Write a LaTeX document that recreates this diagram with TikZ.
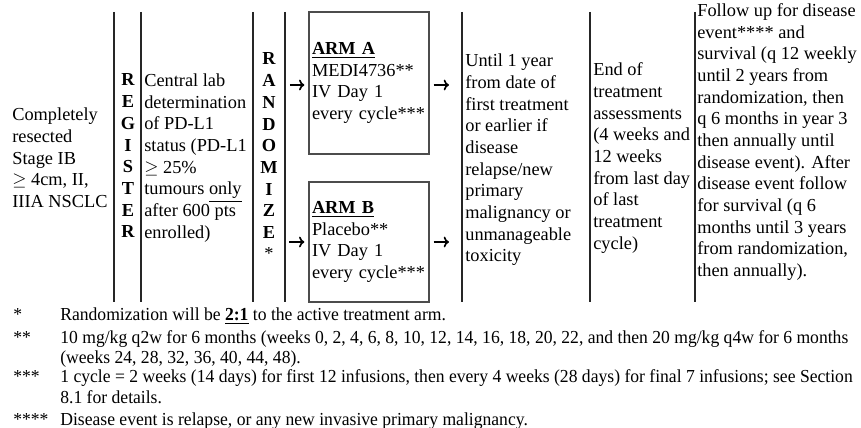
\documentclass[tikz,border=0pt]{standalone}
\usepackage{fontspec}
\setmainfont{Liberation Serif}
\newfontfamily\notefont[FakeStretch=0.96]{Liberation Serif}
\usetikzlibrary{arrows.meta}
\tikzset{
    cell/.style={
        anchor=west,align=left,inner sep=0pt,
        font=\fontsize{11}{13}\selectfont
    },
    letter/.style={
        anchor=base,inner sep=0pt,
        font=\fontsize{11}{13}\selectfont\bfseries
    },
    arm box/.style={
        draw=black!70,line width=.8pt,
        minimum width=72pt,inner sep=1.8pt,
        text width=68.4pt,align=left,
        font=\fontsize{11}{13}\selectfont
    },
    rule/.style={line width=.8pt,black!85},
    mini arrow/.style={-{To[length=3.2pt,width=6.5pt]},line width=1pt},
    note/.style={anchor=base west,inner sep=0pt,font=\notefont\fontsize{11}{13}\selectfont}
}
\begin{document}
\begin{tikzpicture}[x=0.6pt,y=-0.6pt]
    \useasboundingbox (0,0) rectangle (861,428);
    % column rules
    \foreach \x in {114,141,253,285,462,590,695}
        \draw[rule] (\x,12) -- (\x,302);
    \node[cell] (pop) at (12,158) {Completely\\resected\\Stage IB\\$\geq$ 4cm, II,\\IIIA NSCLC};
    \foreach \l [count=\i] in {R,E,G,I,S,T,E,R}
        \node[letter] (reg\i) at (128,{86+21.67*(\i-1)}) {\l};
    \node[cell] (lab) at (144,158) {Central lab\\determination\\of PD-L1\\status (PD-L1\\$\geq$ 25\%\\tumours \underline{only}\\after 600 pts\\enrolled)};
    \foreach \l [count=\i] in {R,A,N,D,O,M,I,Z,E}
        \node[letter] (rnd\i) at (269,{65+21.67*(\i-1)}) {\l};
    \node[letter,font=\fontsize{11}{13}\selectfont] (rnd10) at (269,260) {*};
    % treatment arms
    \node[arm box,minimum height=85.2pt] (armA) at (369,83)
        {\underline{\textbf{ARM A}}\\MEDI4736**\\IV Day 1\\every cycle***};
    \node[arm box,minimum height=72pt] (armB) at (369,242)
        {\underline{\textbf{ARM B}}\\Placebo**\\IV Day 1\\every cycle***};
    \node[cell] (until) at (465,160) {Until 1 year\\from date of\\first treatment\\or earlier if\\disease\\relapse/new\\primary\\malignancy or\\unmanageable\\toxicity};
    \node[cell] (eot) at (593,158) {End of\\treatment\\assessments\\(4 weeks and\\12 weeks\\from last day\\of last\\treatment\\cycle)};
    \node[cell] (fup) at (697,142) {Follow up for disease\\event**** and\\survival (q 12 weekly\\until 2 years from\\randomization, then\\q 6 months in year 3\\then annually until\\disease event). After\\disease event follow\\for survival (q 6\\months until 3 years\\from randomization,\\then annually).};
    % arrows
    \draw[mini arrow,shorten <=8.4pt,shorten >=2.4pt] ([yshift=-1.2pt]rnd2.east |- armA.west) -- ([yshift=-1.2pt]armA.west);
    \draw[mini arrow,shorten <=8.4pt,shorten >=2.4pt] (rnd9.east |- armB.west) -- (armB.west);
    \draw[mini arrow,shorten <=2.4pt,shorten >=9.6pt] ([yshift=-1.2pt]armA.east) -- ([yshift=-1.2pt]until.west |- armA.east);
    \draw[mini arrow,shorten <=2.4pt,shorten >=9.6pt] (armB.east) -- (until.west |- armB.east);
    % footnotes
    \node[note] (m1) at (13,321) {*};
    \node[note] (n1) at (60,321) {Randomization will be \underline{\textbf{2:1}} to the active treatment arm.};
    \node[note] (m2) at (13,344) {**};
    \node[note] (n2) at (60,344) {10 mg/kg q2w for 6 months (weeks 0, 2, 4, 6, 8, 10, 12, 14, 16, 18, 20, 22, and then 20 mg/kg q4w for 6 months};
    \node[note] (n2b) at (60,364) {(weeks 24, 28, 32, 36, 40, 44, 48).};
    \node[note] (m3) at (13,383) {***};
    \node[note] (n3) at (60,383) {1 cycle = 2 weeks (14 days) for first 12 infusions, then every 4 weeks (28 days) for final 7 infusions; see Section};
    \node[note] (n3b) at (60,404) {8.1 for details.};
    \node[note] (m4) at (13,426) {****};
    \node[note] (n4) at (60,426) {Disease event is relapse, or any new invasive primary malignancy.};
\end{tikzpicture}
\end{document}
